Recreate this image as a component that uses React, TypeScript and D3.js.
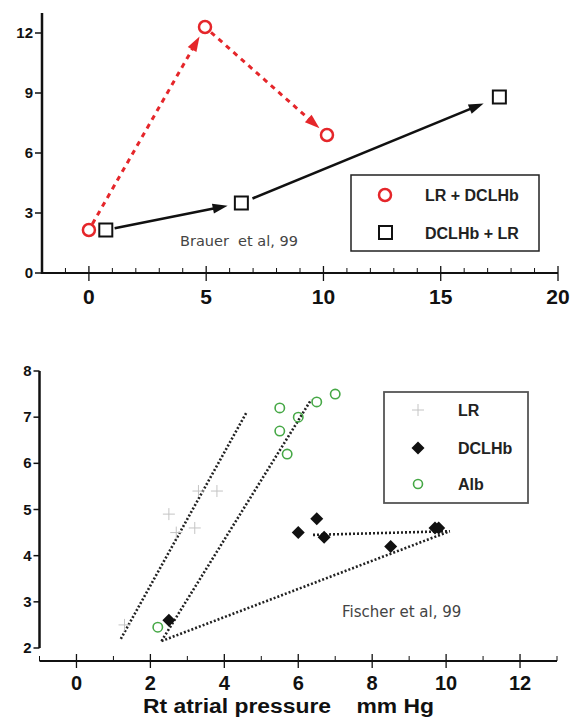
import React from "react";
import * as d3 from "d3";

// top panel (Brauer et al, 99)
const topXTicks = [0, 5, 10, 15, 20];
const topYTicks = [0, 3, 6, 9, 12];
const lrDclhbX = [0, 4.95, 10.15];
const lrDclhbY = [2.15, 12.3, 6.9];
const dclhbLrX = [0.72, 6.5, 17.5];
const dclhbLrY = [2.15, 3.5, 8.8];

// bottom panel (Fischer et al, 99)
const botXTicks = [0, 2, 4, 6, 8, 10, 12];
const botYTicks = [2, 3, 4, 5, 6, 7, 8];
const lrX = [3.3, 3.8, 2.5, 2.7, 3.2, 1.3];
const lrY = [5.4, 5.4, 4.9, 4.5, 4.6, 2.5];
const dclhbX = [2.5, 6.0, 6.5, 6.7, 8.5, 9.7, 9.8];
const dclhbY = [2.6, 4.5, 4.8, 4.4, 4.2, 4.6, 4.6];
const albX = [2.2, 5.5, 5.5, 5.7, 6.0, 6.5, 7.0];
const albY = [2.45, 7.2, 6.7, 6.2, 7.0, 7.33, 7.5];
// fitted lines: [x1, y1, x2, y2]
const fitLines = [
  [1.2, 2.2, 4.6, 7.1],
  [2.3, 2.15, 6.35, 7.38],
  [2.3, 2.15, 10.1, 4.53],
  [6.4, 4.45, 10.1, 4.53],
];

const RED = "#e5262a";
const GREEN = "#46a846";
const FONT = "'Liberation Sans', Arial, Helvetica, sans-serif";
const NOTE_FONT = "'DejaVu Sans', sans-serif";

function Arrow({ x1, y1, x2, y2, s, e, color, dash }) {
  const dx = x2 - x1, dy = y2 - y1;
  const len = Math.hypot(dx, dy);
  const ux = dx / len, uy = dy / len;
  const ax = x1 + ux * s, ay = y1 + uy * s;
  const tx = x2 - ux * e, ty = y2 - uy * e;
  const hl = 15, hw = 5;
  const bx = tx - ux * hl, by = ty - uy * hl;
  const px = -uy, py = ux;
  return (
    <g>
      <line x1={ax} y1={ay} x2={bx + ux * 2} y2={by + uy * 2} stroke={color} strokeWidth={dash ? 3 : 2.6}
        strokeDasharray={dash ? "5 5" : undefined} />
      <path d={`M${tx},${ty}L${bx + px * hw},${by + py * hw}L${bx - px * hw},${by - py * hw}Z`} fill={color} />
    </g>
  );
}

function TopChart() {
  const x = d3.scaleLinear().domain([-2, 20]).range([42, 558]);
  const y = d3.scaleLinear().domain([0, 13]).range([273, 13]);
  const minor = d3.range(-2, 21).filter(v => v % 5 !== 0);
  const red = lrDclhbX.map((v, i) => [x(v), y(lrDclhbY[i])]);
  const blk = dclhbLrX.map((v, i) => [x(v), y(dclhbLrY[i])]);
  return (
    <g fontFamily={FONT}>
      <line x1={x(-2)} x2={x(20)} y1={y(0)} y2={y(0)} stroke="#111" strokeWidth={2} />
      <line x1={x(-2)} x2={x(-2)} y1={y(0) + 1} y2={y(13)} stroke="#111" strokeWidth={2.5} />
      {minor.map(v => (
        <line key={v} x1={x(v)} x2={x(v)} y1={y(0)} y2={y(0) - 5} stroke="#111" strokeWidth={1} />
      ))}
      {topXTicks.map(v => (
        <g key={v}>
          <line x1={x(v)} x2={x(v)} y1={y(0) - 7} y2={y(0) + 8} stroke="#111" strokeWidth={1.3} />
          <text x={x(v)} y={y(0) + 31} textAnchor="middle" fontSize={21} fontWeight="bold" fill="#111">{v}</text>
        </g>
      ))}
      {topYTicks.map(v => (
        <g key={v}>
          <line x1={x(-2) - 7} x2={x(-2)} y1={y(v)} y2={y(v)} stroke="#111" strokeWidth={1.5} />
          <text x={x(-2) - 9} y={y(v) + 5} textAnchor="end" fontSize={15} fontWeight="bold" fill="#111">{v}</text>
        </g>
      ))}
      <Arrow x1={red[0][0]} y1={red[0][1]} x2={red[1][0]} y2={red[1][1]} s={7} e={11} color={RED} dash />
      <Arrow x1={red[1][0]} y1={red[1][1]} x2={red[2][0]} y2={red[2][1]} s={8} e={10} color={RED} dash />
      <Arrow x1={blk[0][0]} y1={blk[0][1]} x2={blk[1][0]} y2={blk[1][1]} s={9} e={14} color="#111" />
      <Arrow x1={blk[1][0]} y1={blk[1][1]} x2={blk[2][0]} y2={blk[2][1]} s={12} e={17} color="#111" />
      {red.map((p, i) => (
        <circle key={i} cx={p[0]} cy={p[1]} r={6} fill="#fff" stroke={RED} strokeWidth={2.5} />
      ))}
      {blk.map((p, i) => (
        <rect key={i} x={p[0] - 6.5} y={p[1] - 6.5} width={13} height={13} fill="#fff" stroke="#111" strokeWidth={2} />
      ))}
      <text x={180} y={246} fontSize={14.5} fontFamily={NOTE_FONT} fill="#444" style={{ whiteSpace: "pre" }}>
        {"Brauer  et al, 99"}
      </text>
      <rect x={351} y={175} width={188} height={76} fill="#fff" stroke="#222" strokeWidth={1.5} />
      <circle cx={385} cy={195} r={6} fill="#fff" stroke={RED} strokeWidth={2.5} />
      <text x={425} y={201} fontSize={16} fontWeight="bold" fill="#222">LR + DCLHb</text>
      <rect x={379} y={226} width={13} height={13} fill="#fff" stroke="#111" strokeWidth={2} />
      <text x={425} y={239} fontSize={16} fontWeight="bold" fill="#222">DCLHb + LR</text>
    </g>
  );
}

function BottomChart() {
  const x = d3.scaleLinear().domain([-1, 13]).range([39.5, 557]);
  const y = d3.scaleLinear().domain([2, 8]).range([648, 371]);
  const axY = 661;
  const minor = d3.range(-1, 14).filter(v => v % 2 !== 0);
  const plus = 6;
  const dia = 6.5;
  return (
    <g fontFamily={FONT}>
      <line x1={x(-1)} x2={x(13)} y1={axY} y2={axY} stroke="#111" strokeWidth={2} />
      <line x1={x(-1)} x2={x(-1)} y1={y(2)} y2={y(8)} stroke="#111" strokeWidth={2.5} />
      {minor.map(v => (
        <line key={v} x1={x(v)} x2={x(v)} y1={axY} y2={axY - 5} stroke="#111" strokeWidth={1} />
      ))}
      {botXTicks.map(v => (
        <g key={v}>
          <line x1={x(v)} x2={x(v)} y1={axY - 7} y2={axY + 7} stroke="#111" strokeWidth={1.3} />
          <text x={x(v)} y={axY + 29} textAnchor="middle" fontSize={20} fontWeight="bold" fill="#111">{v}</text>
        </g>
      ))}
      {botYTicks.map(v => (
        <g key={v}>
          <line x1={x(-1) - 6} x2={x(-1)} y1={y(v)} y2={y(v)} stroke="#111" strokeWidth={1.5} />
          <text x={x(-1) - 8} y={y(v) + 5} textAnchor="end" fontSize={15} fontWeight="bold" fill="#111">{v}</text>
        </g>
      ))}
      {fitLines.map((l, i) => (
        <line key={i} x1={x(l[0])} y1={y(l[1])} x2={x(l[2])} y2={y(l[3])} stroke="#222"
          strokeWidth={2.6} strokeDasharray="2 2" />
      ))}
      {lrX.map((v, i) => (
        <path key={i} d={`M${x(v) - plus},${y(lrY[i])}h${plus * 2}M${x(v)},${y(lrY[i]) - plus}v${plus * 2}`}
          stroke="#c4c4c4" strokeWidth={1} fill="none" />
      ))}
      {dclhbX.map((v, i) => (
        <path key={i} d={`M${x(v)},${y(dclhbY[i]) - dia}l${dia},${dia}l${-dia},${dia}l${-dia},${-dia}Z`} fill="#111" />
      ))}
      {albX.map((v, i) => (
        <circle key={i} cx={x(v)} cy={y(albY[i])} r={4.7} fill="none" stroke={GREEN} strokeWidth={1.6} />
      ))}
      <text x={342} y={617} fontSize={15} fontFamily={NOTE_FONT} fill="#444">Fischer et al, 99</text>
      <rect x={384} y={392} width={144} height={111} fill="#fff" stroke="#555" strokeWidth={1.8} />
      <path d={`M${418 - plus},410h${plus * 2}M418,${410 - plus}v${plus * 2}`} stroke="#c4c4c4" strokeWidth={1} />
      <text x={458} y={416} fontSize={16} fontWeight="bold" fill="#222">LR</text>
      <path d={`M418,${448 - dia}l${dia},${dia}l${-dia},${dia}l${-dia},${-dia}Z`} fill="#111" />
      <text x={458} y={454} fontSize={16} fontWeight="bold" fill="#222">DCLHb</text>
      <circle cx={418} cy={484} r={4.5} fill="none" stroke={GREEN} strokeWidth={1.6} />
      <text x={458} y={490} fontSize={16} fontWeight="bold" fill="#222">Alb</text>
      <text x={143} y={713} fontSize={20} fontWeight="bold" fill="#111" textLength={291}
        lengthAdjust="spacingAndGlyphs" style={{ whiteSpace: "pre" }}>
        {"Rt atrial pressure    mm Hg"}
      </text>
    </g>
  );
}

export default function App() {
  return (
    <svg width={570} height={717} style={{ position: "absolute", left: 0, top: 0, background: "#fff" }}>
      <rect width={570} height={717} fill="#fff" />
      <TopChart />
      <BottomChart />
    </svg>
  );
}
